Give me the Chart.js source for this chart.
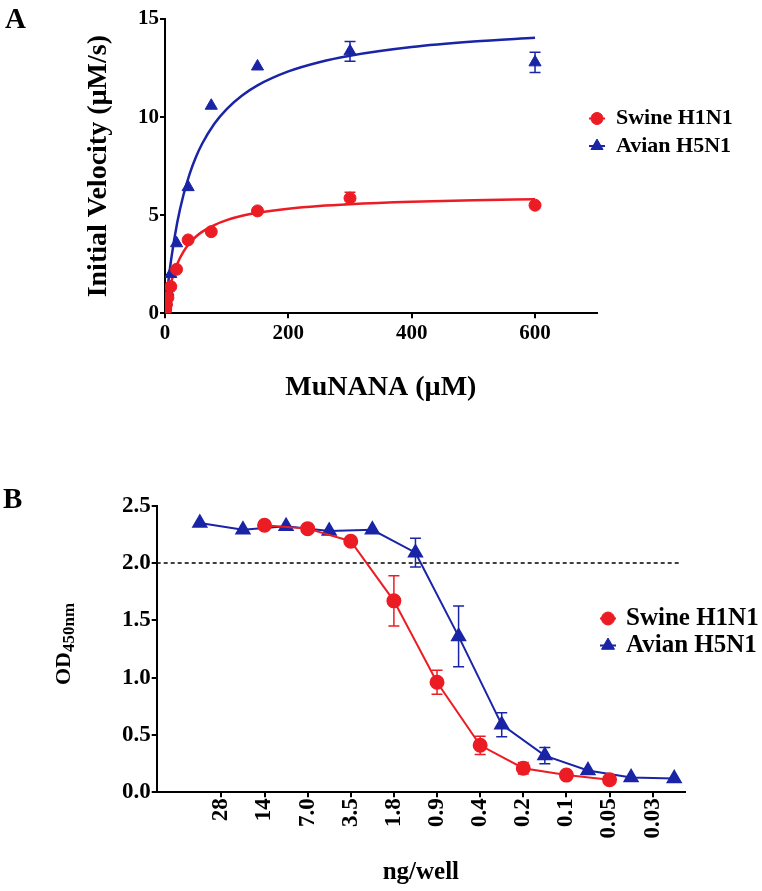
<!DOCTYPE html>
<html>
<head>
<meta charset="utf-8">
<script src="https://cdn.jsdelivr.net/npm/chart.js@4.4.1/dist/chart.umd.min.js"></script>
<style>
  body { margin: 0; background: #fff; }
  #wrap { position: relative; width: 762px; height: 891px; }
  canvas { position: absolute; left: 0; }
  #chartA { top: 0; }
  #chartB { top: 430px; }
</style>
</head>
<body>
<div id="wrap">
  <canvas id="chartA" width="762" height="430"></canvas>
  <canvas id="chartB" width="762" height="461"></canvas>
</div>
<script>
// ---- panel A: initial velocity vs MuNANA ----
const substrate = [0.59, 1.17, 2.34, 4.69, 9.375, 18.75, 37.5, 75, 150, 300, 600];
const swineVelocity = [0.12, 0.25, 0.45, 0.8, 1.36, 2.24, 3.74, 4.16, 5.22, 5.87, 5.51];
const swineVelocityErr = [0, 0, 0, 0, 0, 0, 0, 0, 0, 0.3, 0];
const avianVelocity = [0.15, 0.3, 0.6, 1.1, 2.0, 3.57, 6.43, 10.58, 12.58, 13.35, 12.79];
const avianVelocityErr = [0, 0, 0, 0, 0, 0, 0, 0, 0, 0.5, 0.52];

// fitted curves
const fitX = [0, 2, 5, 10, 20, 30, 40, 50, 60, 80, 100, 125, 150, 200, 250, 300, 400, 500, 600];
const swineFit = [0, 0.41, 0.92, 1.6, 2.53, 3.14, 3.58, 3.9, 4.15, 4.5, 4.75, 4.97, 5.12, 5.33, 5.47, 5.56, 5.68, 5.76, 5.81];
const avianFit = [0, 0.64, 1.51, 2.75, 4.65, 6.04, 7.11, 7.95, 8.63, 9.66, 10.41, 11.1, 11.62, 12.33, 12.8, 13.13, 13.57, 13.85, 14.05];

const xTicksA = [0, 200, 400, 600];
const yTicksA = [0, 5, 10, 15];

// ---- panel B: OD450 vs ng/well (dilution steps) ----
const doseLabels = ['28', '14', '7.0', '3.5', '1.8', '0.9', '0.4', '0.2', '0.1', '0.05', '0.03'];
const swineStep = [2, 3, 4, 5, 6, 7, 8, 9, 10];
const swineOD = [2.33, 2.30, 2.19, 1.67, 0.96, 0.41, 0.21, 0.15, 0.11];
const swineODErr = [0, 0, 0, 0.22, 0.105, 0.08, 0.05, 0, 0];
const avianStep = [0.5, 1.5, 2.5, 3.5, 4.5, 5.5, 6.5, 7.5, 8.5, 9.5, 10.5, 11.5];
const avianOD = [2.35, 2.29, 2.32, 2.28, 2.29, 2.09, 1.36, 0.59, 0.32, 0.19, 0.13, 0.12];
const avianODErr = [0, 0, 0, 0, 0, 0.125, 0.265, 0.105, 0.07, 0, 0, 0];
const cutoffOD = 2.0;
const yTicksB = [0, 0.5, 1.0, 1.5, 2.0, 2.5];

const RED = '#ec1c24';
const BLUE = '#1a24a6';
const SERIF = "'Liberation Serif', 'Times New Roman', serif";

Chart.defaults.font.family = SERIF;
Chart.defaults.font.weight = 'bold';
Chart.defaults.color = '#000';

const pts = (xs, ys) => xs.map((x, i) => ({ x: x, y: ys[i] }));

const errorBars = {
  id: 'errorBars',
  afterDatasetsDraw(chart) {
    const { ctx, scales: { x, y } } = chart;
    chart.data.datasets.forEach((ds) => {
      if (!ds.yErr) return;
      ctx.save();
      ctx.strokeStyle = ds.pointBackgroundColor;
      ctx.lineWidth = 1.5;
      ds.data.forEach((p, j) => {
        const e = ds.yErr[j];
        if (!e) return;
        const px = x.getPixelForValue(p.x);
        const top = y.getPixelForValue(p.y + e);
        const bot = y.getPixelForValue(p.y - e);
        ctx.beginPath();
        ctx.moveTo(px, top); ctx.lineTo(px, bot);
        ctx.moveTo(px - 5.5, top); ctx.lineTo(px + 5.5, top);
        ctx.moveTo(px - 5.5, bot); ctx.lineTo(px + 5.5, bot);
        ctx.stroke();
      });
      ctx.restore();
    });
  }
};

const sideLegend = {
  id: 'sideLegend',
  afterDraw(chart, args, opts) {
    const { ctx } = chart;
    const items = chart.data.datasets.filter((d) => d.legend);
    items.forEach((d, i) => {
      const cx = opts.x;
      const cy = opts.y + i * opts.gap;
      ctx.save();
      ctx.strokeStyle = d.pointBackgroundColor;
      ctx.fillStyle = d.pointBackgroundColor;
      ctx.lineWidth = 2;
      ctx.beginPath();
      ctx.moveTo(cx - 8, cy); ctx.lineTo(cx + 8, cy);
      ctx.stroke();
      ctx.lineWidth = 1;
      Chart.helpers.drawPoint(ctx, { pointStyle: d.pointStyle, radius: d.pointRadius, borderWidth: 1, rotation: 0 }, cx, cy);
      ctx.fillStyle = '#000';
      ctx.font = 'bold ' + opts.size + 'px ' + SERIF;
      ctx.textBaseline = 'middle';
      ctx.textAlign = 'left';
      ctx.fillText(d.label, cx + opts.textGap, cy);
      ctx.restore();
    });
  }
};

const panelLetter = {
  id: 'panelLetter',
  afterDraw(chart, args, opts) {
    const { ctx } = chart;
    ctx.save();
    ctx.fillStyle = '#000';
    ctx.font = 'bold 29px ' + SERIF;
    ctx.textBaseline = 'alphabetic';
    ctx.fillText(opts.text, opts.x, opts.y);
    ctx.restore();
  }
};

const axisStyle = {
  grid: { drawOnChartArea: false, tickLength: 5, color: '#000', lineWidth: 2 },
  border: { color: '#000', width: 2 }
};

// ---- chart A ----
new Chart(document.getElementById('chartA'), {
  type: 'scatter',
  data: {
    datasets: [
      {
        label: 'Swine H1N1', legend: true, data: pts(substrate, swineVelocity), yErr: swineVelocityErr,
        pointStyle: 'circle', pointRadius: 6, pointBackgroundColor: RED, pointBorderColor: RED, borderColor: RED,
        showLine: false
      },
      {
        label: 'Avian H5N1', legend: true, data: pts(substrate, avianVelocity), yErr: avianVelocityErr,
        pointStyle: 'triangle', pointRadius: 7, pointBackgroundColor: BLUE, pointBorderColor: BLUE, borderColor: BLUE,
        showLine: false
      },
      {
        label: 'Swine fit', data: pts(fitX, swineFit), showLine: true, pointRadius: 0,
        borderColor: RED, borderWidth: 2.5, cubicInterpolationMode: 'monotone'
      },
      {
        label: 'Avian fit', data: pts(fitX, avianFit), showLine: true, pointRadius: 0,
        borderColor: BLUE, borderWidth: 2.5, cubicInterpolationMode: 'monotone'
      }
    ]
  },
  options: {
    responsive: false,
    animation: false,
    events: [],
    layout: { padding: { top: 19, right: 165.3, left: 0, bottom: 0 } },
    scales: {
      x: {
        type: 'linear', min: 0, max: 700,
        afterBuildTicks: (s) => { s.ticks = xTicksA.map((v) => ({ value: v })); },
        afterFit: (s) => { s.height = 116.7; },
        ticks: { font: { size: 21 }, padding: 3 },
        title: { display: true, text: 'MuNANA (µM)', font: { size: 28 }, padding: { top: 0, bottom: 25.7 } },
        ...axisStyle
      },
      y: {
        type: 'linear', min: 0, max: 15,
        afterBuildTicks: (s) => { s.ticks = yTicksA.map((v) => ({ value: v })); },
        afterFit: (s) => { s.width = 165; },
        ticks: { font: { size: 21 }, padding: 1 },
        title: { display: true, text: 'Initial Velocity (µM/s)', font: { size: 28 }, padding: { top: 82, bottom: 0 } },
        ...axisStyle
      }
    },
    plugins: {
      legend: { display: false },
      tooltip: { enabled: false },
      sideLegend: { x: 597, y: 118.5, gap: 27.5, size: 22, textGap: 19 },
      panelLetter: { text: 'A', x: 5, y: 28 }
    }
  },
  plugins: [errorBars, sideLegend, panelLetter]
});

// ---- chart B ----
const odTitle = {
  id: 'odTitle',
  afterDraw(chart) {
    const { ctx, chartArea } = chart;
    const cy = (chartArea.top + chartArea.bottom) / 2 - 5;
    ctx.save();
    ctx.translate(chartArea.left - 87, cy);
    ctx.rotate(-Math.PI / 2);
    ctx.fillStyle = '#000';
    ctx.textBaseline = 'alphabetic';
    ctx.font = 'bold 22px ' + SERIF;
    const w1 = ctx.measureText('OD').width;
    ctx.font = 'bold 17px ' + SERIF;
    const w2 = ctx.measureText('450nm').width;
    const start = -(w1 + w2) / 2;
    ctx.font = 'bold 22px ' + SERIF;
    ctx.fillText('OD', start, 0);
    ctx.font = 'bold 17px ' + SERIF;
    ctx.fillText('450nm', start + w1, 4);
    ctx.restore();
  }
};

new Chart(document.getElementById('chartB'), {
  type: 'scatter',
  data: {
    datasets: [
      {
        label: 'Swine H1N1', legend: true, data: pts(swineStep, swineOD), yErr: swineODErr,
        showLine: true, borderColor: RED, borderWidth: 2,
        pointStyle: 'circle', pointRadius: 6.5, pointBackgroundColor: RED, pointBorderColor: RED
      },
      {
        label: 'Avian H5N1', legend: true, data: pts(avianStep, avianOD), yErr: avianODErr,
        showLine: true, borderColor: BLUE, borderWidth: 2,
        pointStyle: 'triangle', pointRadius: 7.5, pointBackgroundColor: BLUE, pointBorderColor: BLUE
      },
      {
        label: 'cutoff', data: [{ x: -0.5, y: cutoffOD }, { x: 11.65, y: cutoffOD }],
        showLine: true, pointRadius: 0, borderColor: '#000', borderWidth: 1.5, borderDash: [4, 3]
      }
    ]
  },
  options: {
    responsive: false,
    animation: false,
    events: [],
    layout: { padding: { top: 75.7, right: 77, left: 0, bottom: 0 } },
    scales: {
      x: {
        type: 'linear', min: -0.5, max: 11.75,
        afterBuildTicks: (s) => { s.ticks = doseLabels.map((l, i) => ({ value: i + 1 })); },
        afterFit: (s) => { s.height = 98.7; },
        ticks: {
          font: { size: 23 }, padding: 1, minRotation: 90, maxRotation: 90, autoSkip: false,
          callback: (v, i) => doseLabels[i]
        },
        title: { display: true, text: 'ng/well', font: { size: 25 }, padding: { top: 0, bottom: 3.5 } },
        ...axisStyle
      },
      y: {
        type: 'linear', min: 0, max: 2.5,
        afterBuildTicks: (s) => { s.ticks = yTicksB.map((v) => ({ value: v })); },
        afterFit: (s) => { s.width = 156.7; },
        ticks: { font: { size: 23 }, padding: 1, callback: (v) => v.toFixed(1) },
        ...axisStyle
      }
    },
    plugins: {
      legend: { display: false },
      tooltip: { enabled: false },
      sideLegend: { x: 608, y: 188.5, gap: 27, size: 25, textGap: 18 },
      panelLetter: { text: 'B', x: 3, y: 508 - 430 }
    }
  },
  plugins: [errorBars, sideLegend, panelLetter, odTitle]
});
</script>
</body>
</html>
